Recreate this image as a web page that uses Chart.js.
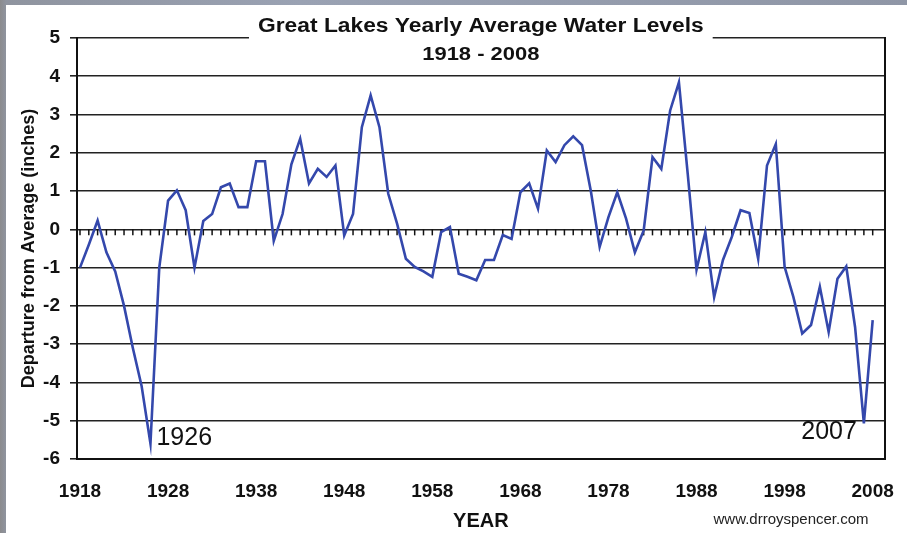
<!DOCTYPE html>
<html>
<head>
<meta charset="utf-8">
<script src="https://cdn.jsdelivr.net/npm/chart.js@4.4.0/dist/chart.umd.min.js"></script>
<style>
	html, body { margin: 0; padding: 0; width: 907px; height: 533px; overflow: hidden;
		background: linear-gradient(90deg, #8b8b8d 0px, #8f949f 6px, #9aa2b3 300px, #8f96a6 907px); }
	#wrap { position: absolute; left: 6px; top: 5px; width: 901px; height: 528px; background: #fff; }
</style>
</head>
<body>
<div id="wrap"><canvas id="line-chartcanvas"></canvas></div>
<script>
// data
var years = [1918, 1919, 1920, 1921, 1922, 1923, 1924, 1925, 1926, 1927,
	1928, 1929, 1930, 1931, 1932, 1933, 1934, 1935, 1936, 1937,
	1938, 1939, 1940, 1941, 1942, 1943, 1944, 1945, 1946, 1947,
	1948, 1949, 1950, 1951, 1952, 1953, 1954, 1955, 1956, 1957,
	1958, 1959, 1960, 1961, 1962, 1963, 1964, 1965, 1966, 1967,
	1968, 1969, 1970, 1971, 1972, 1973, 1974, 1975, 1976, 1977,
	1978, 1979, 1980, 1981, 1982, 1983, 1984, 1985, 1986, 1987,
	1988, 1989, 1990, 1991, 1992, 1993, 1994, 1995, 1996, 1997,
	1998, 1999, 2000, 2001, 2002, 2003, 2004, 2005, 2006, 2007, 2008];

var levels = [-1.0, -0.4, 0.23, -0.6, -1.1, -2.0, -3.1, -4.1, -5.6, -1.0,
	0.75, 1.02, 0.5, -1.0, 0.22, 0.4, 1.1, 1.2, 0.58, 0.58,
	1.78, 1.78, -0.3, 0.4, 1.7, 2.37, 1.2, 1.58, 1.37, 1.67,
	-0.16, 0.4, 2.67, 3.5, 2.67, 0.93, 0.15, -0.77, -0.98, -1.1,
	-1.24, -0.07, 0.06, -1.16, -1.24, -1.33, -0.8, -0.8, -0.15, -0.25,
	0.97, 1.2, 0.54, 2.06, 1.76, 2.2, 2.43, 2.2, 1.0, -0.46,
	0.32, 0.97, 0.28, -0.6, -0.03, 1.89, 1.58, 3.1, 3.84, 1.45,
	-1.05, -0.07, -1.77, -0.8, -0.2, 0.5, 0.43, -0.77, 1.67, 2.23,
	-0.98, -1.77, -2.72, -2.5, -1.5, -2.68, -1.29, -0.97, -2.55, -5.07, -2.37];

var tickYears = [1918, 1928, 1938, 1948, 1958, 1968, 1978, 1988, 1998, 2008];

var noteYears = [1926, 2007];
var noteLevels = [-5.46, -5.3];
var noteTexts = ["1926", "2007"];

var titleText = "Great Lakes Yearly Average Water Levels";
var subtitleText = "1918 - 2008";
var creditText = "www.drroyspencer.com";

var ff = "'Liberation Sans', Arial, sans-serif";

// draws text stretched sideways, the source picture is a bit wide
function wideText(ctx, text, cx, cy, sx) {
	ctx.save();
	ctx.translate(cx, cy);
	ctx.scale(sx, 1);
	ctx.fillText(text, 0, 0);
	ctx.restore();
}

// title, zero line ticks, notes
var decor = {
	id: "decor",
	beforeDatasetsDraw: function(chart) {
		var ctx = chart.ctx, x = chart.scales.x, y = chart.scales.y;
		var y0 = y.getPixelForValue(0);
		ctx.save();
		ctx.strokeStyle = "#111";
		ctx.lineWidth = 1.5;
		years.forEach(function(yr) {
			var px = x.getPixelForValue(yr);
			ctx.beginPath();
			ctx.moveTo(px, y0);
			ctx.lineTo(px, y0 + 6);
			ctx.stroke();
		});
		ctx.restore();
	},
	afterDraw: function(chart) {
		var ctx = chart.ctx, area = chart.chartArea, x = chart.scales.x, y = chart.scales.y;
		var cx = (area.left + area.right) / 2;
		ctx.save();
		ctx.font = "bold 20px " + ff;
		var w = ctx.measureText(titleText).width * 1.14;
		ctx.fillStyle = "#fff";
		ctx.fillRect(cx - w / 2 - 9, area.top - 4, w + 18, 8);
		ctx.fillStyle = "#111";
		ctx.textAlign = "center";
		ctx.textBaseline = "middle";
		wideText(ctx, titleText, cx, area.top - 12, 1.14);
		ctx.font = "bold 18px " + ff;
		wideText(ctx, subtitleText, cx, area.top + 17, 1.22);

		ctx.font = "25px " + ff;
		ctx.textAlign = "left";
		ctx.fillText(noteTexts[0], x.getPixelForValue(noteYears[0]) + 6, y.getPixelForValue(noteLevels[0]));
		ctx.textAlign = "right";
		ctx.fillText(noteTexts[1], x.getPixelForValue(noteYears[1]) - 7, y.getPixelForValue(noteLevels[1]));

		ctx.font = "15px " + ff;
		ctx.textAlign = "center";
		ctx.fillStyle = "#222";
		ctx.fillText(creditText, 785, 515);
		ctx.restore();
	}
};

var ctx = document.getElementById("line-chartcanvas");

var data = {
	labels: years,
	datasets: [
		{
			label: "Departure from Average",
			data: years.map(function(yr, i) { return { x: yr, y: levels[i] }; }),
			borderColor: "#3448ac",
			borderWidth: 2.6,
			pointRadius: 0,
			fill: false,
			tension: 0
		}
	]
};

var options = {
	responsive: true,
	maintainAspectRatio: false,
	animation: false,
	layout: { padding: { top: 33, right: 12, left: 0, bottom: 0 } },
	plugins: {
		legend: { display: false },
		title: { display: false },
		tooltip: { enabled: false }
	},
	scales: {
		x: {
			type: "linear",
			min: 1917.66,
			max: 2009.36,
			afterBuildTicks: function(scale) {
				scale.ticks = tickYears.map(function(v) { return { value: v }; });
			},
			afterFit: function(scale) { scale.height = 74; },
			grid: { display: false },
			border: { display: true, color: "#111", width: 2 },
			ticks: {
				padding: 13,
				maxRotation: 0,
				autoSkip: false,
				color: "#111",
				font: { family: ff, size: 19, weight: "bold" },
				callback: function(v) { return String(v); }
			},
			title: {
				display: true,
				text: "YEAR",
				color: "#111",
				padding: { top: 0, bottom: 0 },
				font: { family: ff, size: 20, weight: "bold" }
			}
		},
		y: {
			min: -6,
			max: 5,
			afterFit: function(scale) { scale.width = 71; },
			grid: { color: "#222", lineWidth: 1.6, tickLength: 7, drawTicks: true },
			border: { display: true, color: "#111", width: 2 },
			ticks: {
				stepSize: 1,
				padding: 10,
				color: "#111",
				font: { family: ff, size: 19, weight: "bold" },
				callback: function(v) { return String(v); }
			},
			title: {
				display: true,
				text: "Departure from Average (inches)",
				color: "#111",
				padding: { top: 12, bottom: 0 },
				font: { family: ff, size: 18, weight: "bold" }
			}
		},
		yr: {
			position: "right",
			min: -6,
			max: 5,
			afterFit: function(scale) { scale.width = 0; },
			grid: { display: false },
			border: { display: true, color: "#111", width: 2 },
			ticks: { display: false }
		}
	}
};

var chart = new Chart(ctx, {
	type: "line",
	data: data,
	options: options,
	plugins: [decor]
});
</script>
</body>
</html>
